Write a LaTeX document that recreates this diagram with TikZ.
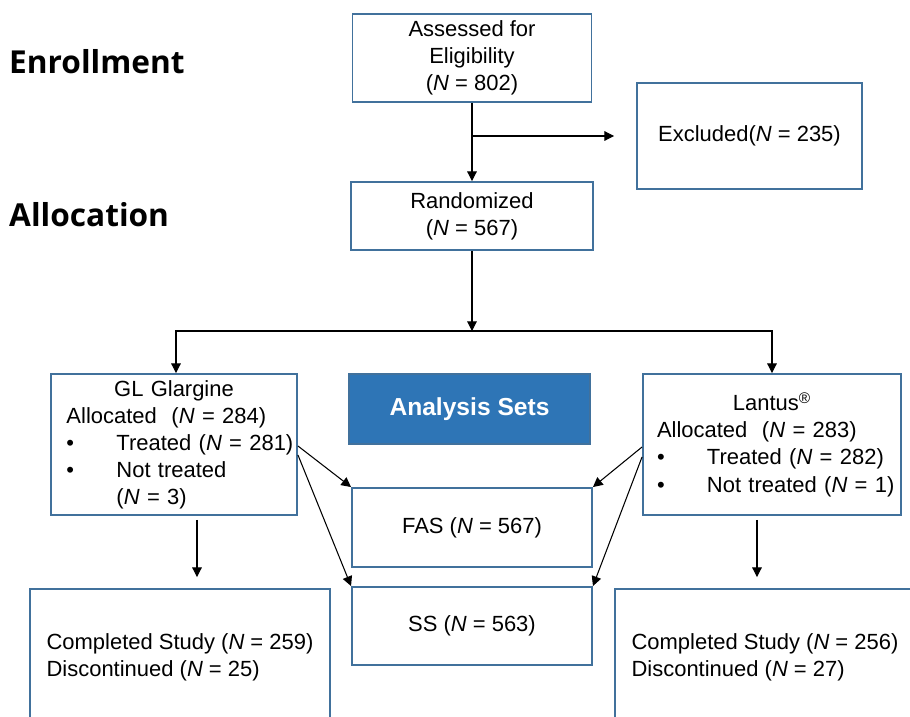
\documentclass[tikz,border=0pt]{standalone}
\usepackage{fontspec}
\setmainfont{Liberation Sans}
\newfontfamily\phasefont{Open Sans}
\usetikzlibrary{arrows.meta}

\definecolor{boxblue}{HTML}{41719C}
\definecolor{setblue}{HTML}{2E75B6}

\newcommand{\bul}{\makebox[1.0cm][l]{\textbullet}}

\begin{document}
\begin{tikzpicture}[
  font=\fontsize{12.5}{15.4}\selectfont,
  arr/.style={-{Triangle[length=5.5pt,width=5.5pt]}, line width=0.6pt},
  phase/.style={anchor=west, font=\phasefont\bfseries\fontsize{18}{21}\selectfont},
  box/.style={draw=boxblue, line width=1.1pt, align=center, inner sep=0pt},
  listbox/.style={box, align=left},
  setsbox/.style={box, fill=setblue, text=white, font=\bfseries\fontsize{14}{16}\selectfont}
]

\useasboundingbox (0,0) rectangle (18.2,-14.34);

% -------------------------------------------------
% Column x-positions
% -------------------------------------------------
\def\xL{3.48}
\def\xM{9.44}
\def\xR{15.44}

% -------------------------------------------------
% PHASE LABELS
% -------------------------------------------------
\node[phase] (enr) at (0.06,-1.24) {Enrollment};
\node[phase] (alloc) at (0.06,-4.3) {Allocation};

% -------------------------------------------------
% ENROLLMENT
% -------------------------------------------------
\node[box, minimum width=4.78cm, minimum height=1.76cm] (assess) at (\xM,-1.16)
  {Assessed for\\Eligibility\\(\textit{N} = 802)};
\node[box, minimum width=4.5cm, minimum height=2.12cm] (excl) at (14.99,-2.72)
  {Excluded(\textit{N} = 235)};
\node[box, minimum width=4.84cm, minimum height=1.36cm] (rand) at (\xM,-4.32)
  {Randomized\\(\textit{N} = 567)};

\coordinate (split) at (\xM,-6.62);

% -------------------------------------------------
% ALLOCATION
% -------------------------------------------------
\node[listbox, text width=4.3cm, minimum width=4.92cm, minimum height=2.82cm] (gl) at (\xL,-8.89)
  {\makebox[4.3cm]{GL Glargine}\\
   \mbox{Allocated\ \ (\textit{N} = 284)}\\
   \mbox{\bul Treated (\textit{N} = 281)}\\
   \bul Not treated\\
   \hspace*{1.0cm}(\textit{N} = 3)};

\node[listbox, text width=4.6cm, minimum width=5.16cm, minimum height=2.82cm] (lant) at (\xR,-8.89)
  {\makebox[4.6cm]{Lantus\textsuperscript{\textregistered}}\\
   \mbox{Allocated\ \ (\textit{N} = 283)}\\
   \mbox{\bul Treated (\textit{N} = 282)}\\
   \mbox{\bul Not treated (\textit{N} = 1)}};

% -------------------------------------------------
% ANALYSIS SETS (middle)
% -------------------------------------------------
\node[setsbox, minimum width=4.82cm, minimum height=1.4cm] (sets) at (9.39,-8.18) {Analysis Sets};
\node[box, minimum width=4.8cm, minimum height=1.58cm] (fas) at (\xM,-10.55) {FAS (\textit{N} = 567)};
\node[box, minimum width=4.8cm, minimum height=1.56cm] (ss) at (\xM,-12.52) {SS (\textit{N} = 563)};

% -------------------------------------------------
% COMPLETION BOXES
% -------------------------------------------------
\node[listbox, minimum width=6cm, minimum height=2.72cm] (done1) at (3.6,-13.14)
  {Completed Study (\textit{N} = 259)\\Discontinued (\textit{N} = 25)};
\node[listbox, minimum width=6cm, minimum height=2.72cm] (done2) at (15.3,-13.14)
  {Completed Study (\textit{N} = 256)\\Discontinued (\textit{N} = 27)};

% -------------------------------------------------
% ARROWS
% -------------------------------------------------
% Assessed -> Randomized, with side branch to Excluded
\draw[arr] (assess) -- (rand);
\coordinate (exfork) at (assess.south |- excl.west);
\draw[arr] (exfork) -- ([xshift=-0.44cm]excl.west);

% Randomized -> split into both arms
\draw[arr] (rand) -- (split);
\draw[{Triangle[length=5.5pt,width=5.5pt]}-{Triangle[length=5.5pt,width=5.5pt]}, line width=0.6pt]
  ([xshift=0.04cm]gl.north) |- (split) -| (lant.north);

% Arms -> analysis sets
\draw[arr] ([yshift=-0.03cm]gl.east) -- (fas.north west);
\draw[arr] ([yshift=-0.21cm]gl.east) -- (ss.north west);
\draw[arr] ([yshift=-0.05cm]lant.west) -- (fas.north east);
\draw[arr] ([yshift=-0.25cm]lant.west) -- (ss.north east);

% Arms -> completion
\coordinate (gldown) at ([xshift=0.46cm,yshift=-0.08cm]gl.south);
\coordinate (ltdown) at ([xshift=-0.3cm,yshift=-0.08cm]lant.south);
\path (gldown |- done1.north) ++(0,0.22) coordinate (glend);
\path (ltdown |- done2.north) ++(0,0.22) coordinate (ltend);
\draw[arr] (gldown) -- (glend);
\draw[arr] (ltdown) -- (ltend);

\end{tikzpicture}
\end{document}
